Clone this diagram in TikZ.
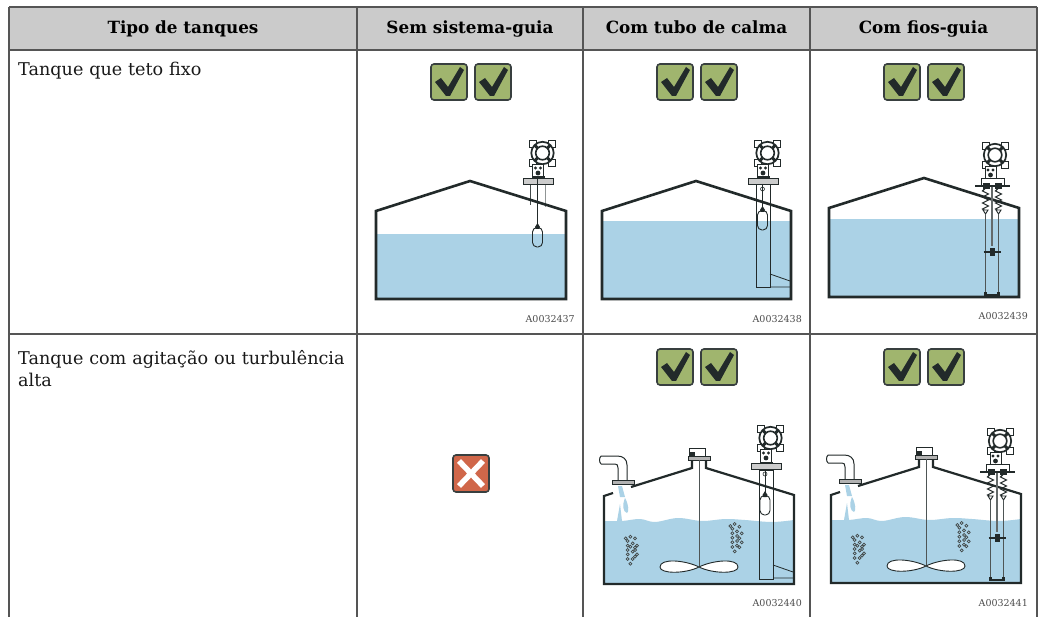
\documentclass[tikz,border=0pt]{standalone}
\usepackage{fontspec}
\setmainfont{DejaVu Serif}
\definecolor{dk}{HTML}{222A2A}
\definecolor{water}{HTML}{ABD2E6}
\definecolor{grid}{HTML}{555555}
\definecolor{hdr}{HTML}{CBCBCB}
\definecolor{okg}{HTML}{A0B56E}
\definecolor{nog}{HTML}{D0674A}
\tikzset{
 gridline/.style={draw=grid,line width=1.1pt},
 tankline/.style={draw=dk,line width=2.6pt,line join=miter},
 fine/.style={draw=dk,line width=0.9pt},
 head/.style={font=\fontsize{16.8}{20}\selectfont\bfseries,text=black,anchor=base,inner sep=0},
 cell/.style={font=\fontsize{17.6}{22.5}\selectfont,text=black!90,anchor=north west,align=left,inner sep=0,text width=335pt},
 code/.style={font=\fontsize{9.5}{11}\selectfont,text=black!70,anchor=east,inner sep=0},
}
\newcommand\okbox[2]{\begin{scope}[shift={(#1,#2)}]
 \draw[draw=dk!90,line width=1.6pt,fill=okg,rounded corners=3pt] (0,0) rectangle (36,36);
 \fill[dk] (4,18) -- (10,14) -- (17,23) -- (29,3) -- (33,6) -- (19,32) -- (15,32) -- cycle;
\end{scope}}
\newcommand\twook[2]{\okbox{#1}{#2}\okbox{\the\numexpr#1+44\relax}{#2}}
\newcommand\housing{
 \foreach \a/\b in {-9.5/-9.5,9.5/-9.5,-9.5/9.5,9.5/9.5}
  \draw[draw=dk,line width=0.8pt,fill=white] (\a-3.5,\b-3.5) rectangle (\a+3.5,\b+3.5);
 \draw[draw=dk,line width=1.7pt,fill=white] (0,0) circle (11.2);
 \foreach \a in {45,135,225,315} \draw[dk,line width=3pt] (\a:6.8) -- (\a:11.2);
 \draw[draw=dk,line width=1.6pt,fill=white] (0,0) circle (6.8);
 \draw[draw=dk,line width=1pt,fill=white] (-10,11.5) rectangle (1,24);
 \fill[dk] (-7,15) circle (1.6);\fill[dk] (-2,15) circle (1.6);\fill[dk] (-4.5,20) circle (2.4);\fill[dk] (-11,23.5) rectangle (2,26);
}
\newcommand\floatbody[2]{
 \fill[dk] (#1-1.7,#2-8) -- (#1+1.7,#2-8) -- (#1+2.5,#2-10) -- (#1,#2-14) -- (#1-2.5,#2-10) -- cycle;
 \draw[fine,rounded corners=4.5pt] (#1-5,#2-9.5) rectangle (#1+5,#2+10);
}
\newcommand\gaugeflange[2]{
 \begin{scope}[shift={(#1+4.5,#2-28)}]\housing\end{scope}
 \draw[draw=dk,line width=0.9pt,fill=white!80!black] (#1-15,#2-2.5) rectangle (#1+15,#2+3.5);
}
\newcommand\wiregauge[3]{
 \begin{scope}[shift={(#1+3,#2-31)}]\housing\end{scope}
 \draw[draw=dk,line width=0.9pt,fill=white] (#1-11,#2-8) rectangle (#1+12,#2);
 \fill[dk] (#1-9,#2-3) rectangle (#1-2,#2+3);\fill[dk] (#1+3,#2-3) rectangle (#1+10,#2+3);
 \draw[dk,line width=2pt] (#1-17,#2) -- (#1+18,#2);
 \foreach \s in {-6.5,6.5}{
  \draw[dk,line width=1.1pt] (#1+\s,#2+2) -- ++(-3,3) -- ++(6,3) -- ++(-6,3) -- ++(6,3) -- ++(-6,3) -- ++(6,3) -- ++(-6,3) -- ++(3,2);
  \draw[fine,fill=white] (#1+\s-2.5,#2+24) -- (#1+\s+2.5,#2+24) -- (#1+\s,#2+28) -- cycle;
  \draw[draw=dk!80,line width=1.2pt] (#1+\s,#2+28) -- (#1+\s,#3);
  \fill[dk] (#1+\s-1.5,#3-3) rectangle (#1+\s+1.5,#3+1);
 }
 \draw[draw=dk!70,line width=1.2pt] (#1,#2+1) -- (#1,#2+60);
 \fill[dk] (#1-2.5,#2+62) rectangle (#1+2.5,#2+70);
 \draw[dk,line width=1.4pt] (#1-8.5,#2+66) -- (#1+8.5,#2+66);
 \draw[dk,line width=1.6pt] (#1-7,#3) -- (#1+7,#3);
}
\newcommand\agitated{
 \fill[water] (604,520) plot[smooth,tension=.6] coordinates {(604,521) (622,521) (640,519) (655,522) (678,518) (702,521) (725,519) (745,520) (772,522) (794,520)} -- (794,584) -- (604,584) -- cycle;
 \fill[water] (618,486) -- (622,486) -- (625,497) -- (620,497) -- cycle;
 \fill[water] (625,498) .. controls (629,505) and (629,512) .. (627,513) .. controls (623,512) and (622,505) .. (625,498);
 \fill[water] (620,504) -- (622,521) -- (617,521) -- cycle;
 \draw[tankline,line width=2.2pt] (613,493) -- (604,496) -- (604,584) -- (794,584) -- (794,495) -- (706,468) -- (706,458);
 \draw[tankline,line width=2.2pt] (692,458) -- (692,468) -- (631,487);
 \draw[draw=dk,line width=1pt] (601,456) -- (617,456) .. controls (623,456) and (627,459) .. (627,465) -- (627,480);
 \draw[draw=dk,line width=1pt] (601,464) -- (615,464) .. controls (617,464) and (618,465) .. (618,468) -- (618,480);
 \draw[draw=dk,line width=1pt] (601,456) .. controls (599,458) and (599,462) .. (601,464);
 \draw[draw=dk,line width=1pt,fill=white!70!black] (612,480) rectangle (634,484);
 \draw[draw=dk,line width=0.8pt,fill=white] (689,448) rectangle (705,456);
 \fill[dk] (689,452) rectangle (695,456);
 \draw[draw=dk,line width=1pt,fill=white!70!black] (688,456) rectangle (710,460);
 \draw[draw=dk!80,line width=0.9pt] (699,460) -- (699,567);
 \draw[fine,fill=white] (699,567) .. controls (685,560) and (660,558) .. (660,567) .. controls (660,574) and (685,574) .. (699,567) .. controls (713,560) and (738,558) .. (738,567) .. controls (738,574) and (713,574) .. (699,567) -- cycle;
 \foreach \a/\b in {122/370,136/365,150/370,128/378,143/385,128/392,156/392,150/398,128/405,143/410,156/418,128/418,150/425,143/432,128/432,136/446,136/395,150/405,436/333,449/327,463/335,442/341,456/349,442/355,470/355,456/363,442/368,463/370,456/378,470/382,442/382,456/392,442/396,463/397,449/409}
  \draw[draw=dk!85,line width=0.7pt] ({585+\a/3},{415+\b/3}) circle (1.5);
}
\begin{document}
\begin{tikzpicture}[x=1pt,y=-1pt]
\useasboundingbox (0,0) rectangle (1044,617);
\fill[white] (0,0) rectangle (1044,617);
\fill[hdr] (9,7) rectangle (1037,50);
\draw[gridline] (9,7) -- (1037,7);
\draw[gridline] (9,50) -- (1037,50);
\draw[gridline] (9,334) -- (1037,334);
\foreach \x in {9,357,583,810,1037} \draw[gridline] (\x,7) -- (\x,617);
\node[head] (h1) at (183,34) {Tipo de tanques};
\node[head] (h2) at (470,34) {Sem sistema-guia};
\node[head] (h3) at (696.5,34) {Com tubo de calma};
\node[head] (h4) at (923.5,34) {Com fios-guia};
\node[cell] (c1) at (18,62) {Tanque que teto fixo};
\node[cell] (c2) at (18,350) {Tanque com agitação ou turbulência alta};
\twook{431}{64}\twook{657}{64}\twook{884}{64}
\twook{657}{349}\twook{884}{349}
\draw[draw=dk!90,line width=1.6pt,fill=nog,rounded corners=3pt] (453,455) rectangle (489,492);
\draw[white,line width=5.5pt] (459,461) -- (483,486) (483,461) -- (459,486);
% tank 1
\fill[water] (376,234) rectangle (566,299);
\draw[draw=dk!85,line width=0.9pt] (530,184) -- (530,205);
\draw[draw=dk!50,line width=1pt] (545,184) -- (545,207);
\draw[tankline] (376,299) -- (376,211) -- (470,181) -- (566,211) -- (566,299) -- cycle;
\gaugeflange{538}{181}
\draw[draw=dk,line width=0.8pt] (537.5,178) -- (537.5,226);
\floatbody{537.5}{237}
\node[code] (a1) at (575,319) {A0032437};
% tank 2
\fill[water] (602,221) rectangle (791,299);
\draw[tankline] (602,299) -- (602,211) -- (696,181) -- (791,211) -- (791,299) -- cycle;
\draw[draw=dk,line width=1pt] (756,184) rectangle (770,288);
\draw[draw=dk,line width=0.8pt] (770,274) -- (790,281) (770,287) -- (790,287);
\gaugeflange{763}{181}
\draw[draw=dk,line width=0.7pt] (762.5,184) -- (762.5,209);
\draw[draw=dk,line width=0.6pt] (762.5,189) circle (2);
\floatbody{762.5}{220}
\node[code] (a2) at (802,319) {A0032438};
% tank 3
\fill[water] (829,219) rectangle (1019,297);
\draw[tankline] (829,297) -- (829,208) -- (924,178) -- (1019,208) -- (1019,297) -- cycle;
\wiregauge{992}{186}{295}
\node[code] (a3) at (1028,316) {A0032439};
% tank 4
\agitated
\draw[draw=dk,line width=1pt] (759,470) rectangle (773,579);
\draw[draw=dk,line width=0.8pt] (773,565) -- (793,572) (773,578) -- (793,578);
\gaugeflange{766}{466}
\draw[draw=dk,line width=0.7pt] (765,470) -- (765,495);
\draw[draw=dk,line width=0.6pt] (765,474) circle (2);
\floatbody{765}{505}
\node[code] (a4) at (802,603) {A0032440};
% tank 5
\begin{scope}[shift={(227,-1)}]\agitated\end{scope}
\wiregauge{997}{472}{580}
\node[code] (a5) at (1028,603) {A0032441};
\end{tikzpicture}
\end{document}
